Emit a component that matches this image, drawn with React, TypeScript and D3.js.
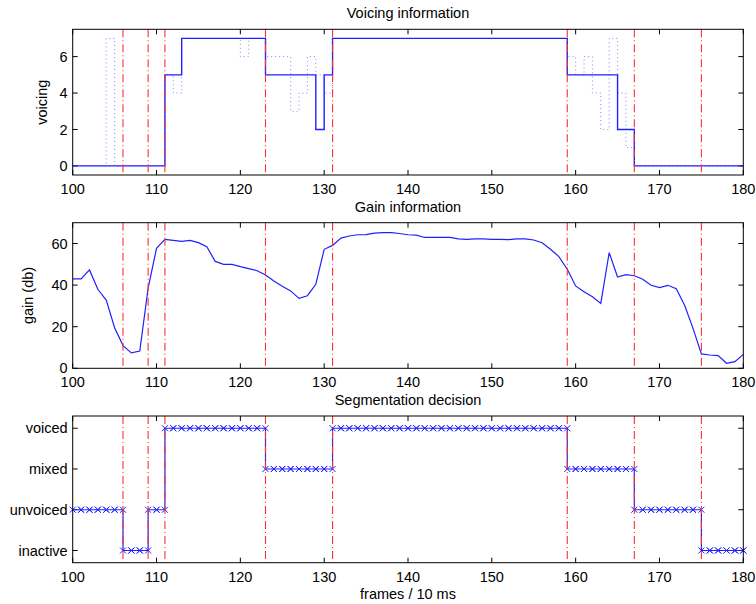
import React from 'react';
import * as d3 from 'd3';

// frame numbers (x axis), 10 ms each
const frames = d3.range(100, 181);

// raw per-frame voicing (dotted)
const voicingRaw = [
  0, 0, 0, 0, 7, 0, 0, 0, 0, 0, 0,
  5, 4, 7, 7, 7, 7, 7, 7, 7, 6,
  7, 7, 6, 6, 6, 3, 4, 6, 5, 4,
  7, 7, 7, 7, 7, 7, 7, 7, 7, 7,
  7, 7, 7, 7, 7, 7, 7, 7, 7, 7,
  7, 7, 7, 7, 7, 7, 7, 7, 6, 5,
  6, 4, 2, 7, 4, 1, 0, 0, 0, 0,
  0, 0, 0, 0, 0, 0, 0, 0, 0, 0,
];

// smoothed voicing (solid)
const voicingSmooth = [
  0, 0, 0, 0, 0, 0, 0, 0, 0, 0, 0,
  5, 5, 7, 7, 7, 7, 7, 7, 7, 7,
  7, 7, 5, 5, 5, 5, 5, 5, 2, 5,
  7, 7, 7, 7, 7, 7, 7, 7, 7, 7,
  7, 7, 7, 7, 7, 7, 7, 7, 7, 7,
  7, 7, 7, 7, 7, 7, 7, 7, 5, 5,
  5, 5, 5, 5, 2, 2, 0, 0, 0, 0,
  0, 0, 0, 0, 0, 0, 0, 0, 0, 0,
];

const gain = [
  43, 43, 47.3, 38, 32.8, 19.5, 10.9, 7.4, 8.3, 38.5, 57.7,
  62, 61.5, 61, 61.5, 60.4, 58.5, 51.4, 50, 50, 48.9,
  47.9, 46.9, 44.9, 42, 39.4, 37.2, 33.6, 34.9, 40.4, 57.2,
  59.1, 62.6, 63.6, 64.2, 64.3, 65, 65.2, 65.2, 64.8, 64.2,
  64, 62.9, 62.9, 63, 62.9, 62.2, 62, 62.2, 62.2, 62,
  62, 61.9, 62.2, 62.2, 61.7, 60.4, 57.2, 53.7, 47.6, 39.6,
  36.8, 34.4, 31.2, 55.6, 43.9, 45, 44.5, 42.8, 39.9, 38.8,
  39.9, 38.3, 30.3, 19.2, 6.9, 6.4, 6.1, 2.4, 3.2, 6.7,
];

// 1 inactive, 2 unvoiced, 3 mixed, 4 voiced
const segment = [
  2, 2, 2, 2, 2, 2, 1, 1, 1, 2, 2,
  4, 4, 4, 4, 4, 4, 4, 4, 4, 4,
  4, 4, 3, 3, 3, 3, 3, 3, 3, 3,
  4, 4, 4, 4, 4, 4, 4, 4, 4, 4,
  4, 4, 4, 4, 4, 4, 4, 4, 4, 4,
  4, 4, 4, 4, 4, 4, 4, 4, 3, 3,
  3, 3, 3, 3, 3, 3, 2, 2, 2, 2,
  2, 2, 2, 2, 1, 1, 1, 1, 1, 1,
];
const segmentLabels = ['inactive', 'unvoiced', 'mixed', 'voiced'];

// segment boundaries (red dash-dot)
const boundaries = [106, 109, 111, 123, 131, 159, 167, 175];

const xTicks = [100, 110, 120, 130, 140, 150, 160, 170, 180];

const FONT = '"Liberation Sans", Arial, Helvetica, sans-serif';
const BLUE = '#2020ff';
const RED = '#ff3030';

export default function App() {
  const ref = React.useRef<SVGSVGElement>(null);

  React.useEffect(() => {
    const svg = d3.select(ref.current);
    svg.selectAll('*').remove();

    const width = 756, height = 604;
    const marginLeft = 72.7, marginRight = 743.3;
    const x = d3.scaleLinear([100, 180], [marginLeft, marginRight]);

    const panel = ({ top, bottom, yDomain, yTicks, yTickFormat, title, yLabel, yLabelX, xLabel }: any) => {
      const y = d3.scaleLinear(yDomain, [bottom, top]);
      const g = svg.append('g').attr('font-family', FONT).attr('font-size', 14.5);

      // ticks inward on all four sides
      const tl = 5;
      const ticks = g.append('g').attr('stroke', '#000').attr('stroke-width', 1);
      xTicks.forEach(t => {
        ticks.append('line').attr('x1', x(t)).attr('x2', x(t)).attr('y1', bottom).attr('y2', bottom - tl);
        ticks.append('line').attr('x1', x(t)).attr('x2', x(t)).attr('y1', top).attr('y2', top + tl);
      });
      yTicks.forEach((t: number) => {
        ticks.append('line').attr('x1', marginLeft).attr('x2', marginLeft + tl).attr('y1', y(t)).attr('y2', y(t));
        ticks.append('line').attr('x1', marginRight).attr('x2', marginRight - tl).attr('y1', y(t)).attr('y2', y(t));
      });

      g.append('g').selectAll('text').data(xTicks).join('text')
        .attr('x', d => x(d)).attr('y', bottom + 19)
        .attr('text-anchor', 'middle').text(d => d);
      g.append('g').selectAll('text').data(yTicks).join('text')
        .attr('x', marginLeft - 5).attr('y', (d: number) => y(d)).attr('dy', '0.35em')
        .attr('text-anchor', 'end').text((d: number) => yTickFormat(d));

      g.append('text').attr('x', (marginLeft + marginRight) / 2).attr('y', top - 11)
        .attr('text-anchor', 'middle').text(title);
      if (yLabel) g.append('text')
        .attr('transform', `translate(${yLabelX},${(top + bottom) / 2}) rotate(-90)`)
        .attr('text-anchor', 'middle').text(yLabel);
      if (xLabel) g.append('text').attr('x', (marginLeft + marginRight) / 2).attr('y', bottom + 36)
        .attr('text-anchor', 'middle').text(xLabel);

      const clipId = `clip${Math.round(top)}`;
      svg.append('clipPath').attr('id', clipId).append('rect')
        .attr('x', marginLeft).attr('y', top).attr('width', marginRight - marginLeft).attr('height', bottom - top);
      const plot = svg.append('g').attr('clip-path', `url(#${clipId})`);
      return { y, plot, g, top, bottom };
    };

    const drawBoundaries = (p: any) => {
      svg.append('g').selectAll('line').data(boundaries).join('line')
        .attr('x1', d => x(d)).attr('x2', d => x(d)).attr('y1', p.top).attr('y2', p.bottom)
        .attr('stroke', RED).attr('stroke-width', 1.1).attr('stroke-dasharray', '8,3,1,3');
    };
    const drawBox = (p: any) => {
      svg.append('rect').attr('x', marginLeft).attr('y', p.top)
        .attr('width', marginRight - marginLeft).attr('height', p.bottom - p.top)
        .attr('fill', 'none').attr('stroke', '#000').attr('stroke-width', 1);
    };

    // Voicing information
    const p1 = panel({
      top: 29.3, bottom: 175, yDomain: [-0.5, 7.5], yTicks: [0, 2, 4, 6], yTickFormat: (d: number) => d,
      title: 'Voicing information', yLabel: 'voicing', yLabelX: 47,
    });
    const step1 = d3.line<number>().x((_, i) => x(frames[i])).curve(d3.curveStepAfter);
    p1.plot.append('path').attr('d', step1.y(d => p1.y(d))(voicingRaw))
      .attr('fill', 'none').attr('stroke', BLUE).attr('stroke-opacity', 0.55)
      .attr('stroke-width', 1).attr('stroke-dasharray', '1,3');
    p1.plot.append('path').attr('d', step1.y(d => p1.y(d))(voicingSmooth))
      .attr('fill', 'none').attr('stroke', BLUE).attr('stroke-width', 1.4);
    drawBoundaries(p1);
    drawBox(p1);

    // Gain information
    const p2 = panel({
      top: 222.7, bottom: 368.3, yDomain: [0, 70], yTicks: [0, 20, 40, 60], yTickFormat: (d: number) => d,
      title: 'Gain information', yLabel: 'gain (db)', yLabelX: 33,
    });
    const line2 = d3.line<number>().x((_, i) => x(frames[i])).y(d => p2.y(d));
    p2.plot.append('path').attr('d', line2(gain))
      .attr('fill', 'none').attr('stroke', BLUE).attr('stroke-width', 1.2);
    drawBoundaries(p2);
    drawBox(p2);

    // Segmentation decision
    const p3 = panel({
      top: 416, bottom: 562.7, yDomain: [0.7, 4.3], yTicks: [1, 2, 3, 4],
      yTickFormat: (d: number) => segmentLabels[d - 1],
      title: 'Segmentation decision', xLabel: 'frames / 10 ms',
    });
    const step3 = d3.line<number>().x((_, i) => x(frames[i])).y(d => p3.y(d)).curve(d3.curveStepAfter);
    p3.plot.append('path').attr('d', step3(segment))
      .attr('fill', 'none').attr('stroke', BLUE).attr('stroke-width', 1.2);
    const verts: [number, number][] = [];
    segment.forEach((v, i) => {
      verts.push([frames[i], v]);
      if (i + 1 < segment.length) verts.push([frames[i + 1], v]);
    });
    const m = 3;
    svg.append('g').selectAll('path').data(verts).join('path')
      .attr('d', ([f, v]) => {
        const cx = x(f), cy = p3.y(v);
        return `M${cx - m},${cy - m}L${cx + m},${cy + m}M${cx - m},${cy + m}L${cx + m},${cy - m}`;
      })
      .attr('stroke', BLUE).attr('stroke-width', 1).attr('fill', 'none');
    drawBoundaries(p3);
    drawBox(p3);

    svg.attr('width', width).attr('height', height).attr('viewBox', [0, 0, width, height]);
  }, []);

  return (
    <svg ref={ref} width={756} height={604}
      style={{ position: 'absolute', left: 0, top: 0, background: '#fff' }} />
  );
}
